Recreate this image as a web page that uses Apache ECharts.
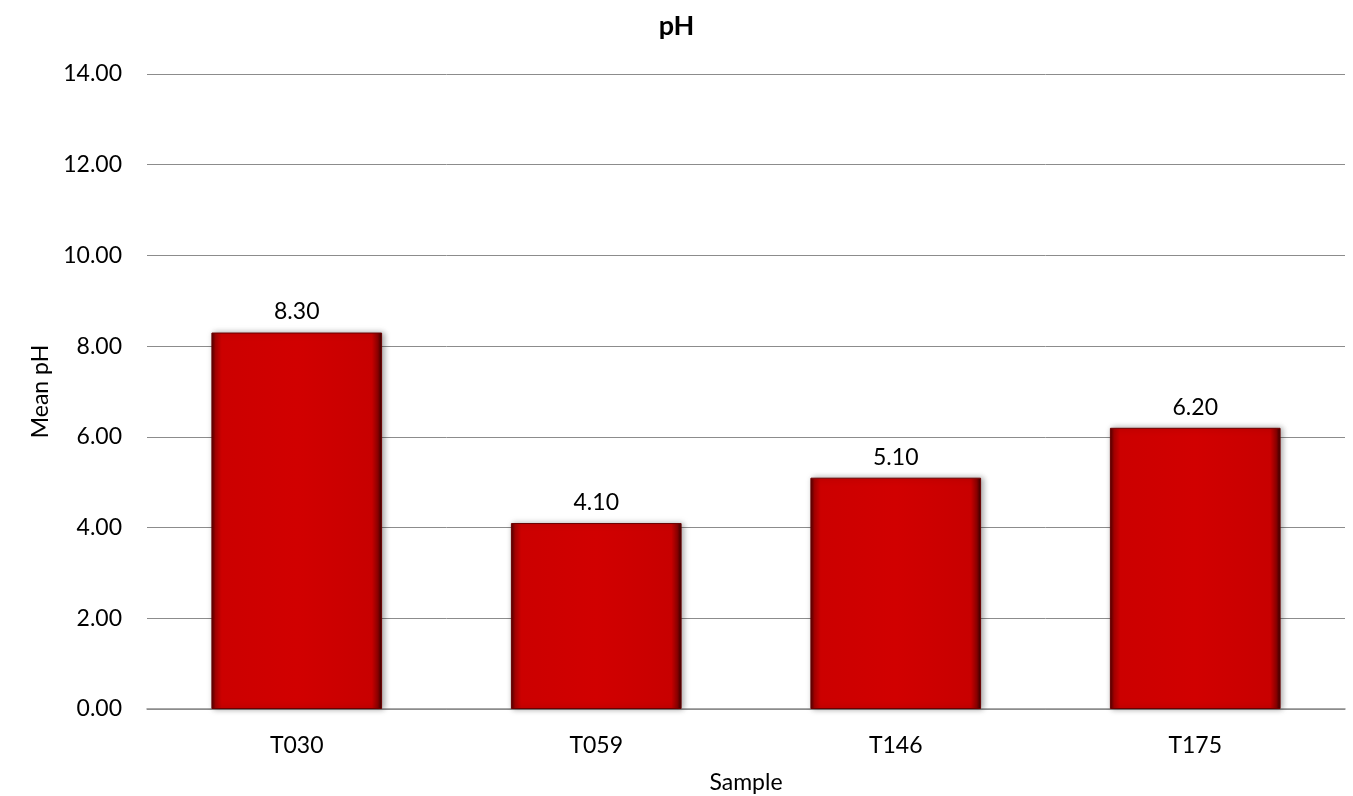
<!DOCTYPE html>
<html>
<head>
<meta charset="utf-8">
<script src="https://cdn.jsdelivr.net/npm/echarts@6/dist/echarts.min.js"></script>
<style>html,body{margin:0;padding:0;background:#fff;}#c{width:1353px;height:796px;}</style>
</head>
<body>
<div id="c"></div>
<script>
var categories = ['T030', 'T059', 'T146', 'T175'];
var meanPH = [8.30, 4.10, 5.10, 6.20];
var yTicks = { min: 0, max: 14, interval: 2 };

var font = 'Lato, "Liberation Sans", sans-serif';
var chart = echarts.init(document.getElementById('c'));
var barColor = new echarts.graphic.LinearGradient(0, 0, 1, 0, [
  { offset: 0, color: '#4a0000' },
  { offset: 0.025, color: '#a80000' },
  { offset: 0.06, color: '#cc0000' },
  { offset: 0.5, color: '#d10000' },
  { offset: 0.94, color: '#c80000' },
  { offset: 0.975, color: '#8a0000' },
  { offset: 1, color: '#300000' }
]);
chart.setOption({
  animation: false,
  title: {
    text: 'pH', left: 'center', top: 8,
    textStyle: { fontFamily: font, fontSize: 27, fontWeight: 'bold', color: '#000' }
  },
  grid: { left: 147, right: 8, top: 74, bottom: 87, containLabel: false, outerBoundsMode: 'none' },
  xAxis: {
    type: 'category', data: categories,
    name: 'Sample', nameLocation: 'middle', nameGap: 62,
    nameTextStyle: { fontFamily: font, fontSize: 23, color: '#000' },
    axisLine: { lineStyle: { color: '#8c8c8c', width: 1.5 } },
    axisTick: { show: false },
    axisLabel: { fontFamily: font, fontSize: 23, color: '#000', margin: 25 }
  },
  yAxis: {
    type: 'value', min: yTicks.min, max: yTicks.max, interval: yTicks.interval,
    name: 'Mean pH', nameLocation: 'middle', nameGap: 93, nameRotate: 90,
    nameTextStyle: { fontFamily: font, fontSize: 23, color: '#000' },
    axisLine: { show: false }, axisTick: { show: false },
    axisLabel: { fontFamily: font, fontSize: 23, color: '#000', margin: 25,
      formatter: function (v) { return v.toFixed(2); } },
    splitLine: { lineStyle: { color: '#8c8c8c', width: 1 } }
  },
  series: [{
    type: 'bar', data: meanPH, barWidth: '57%',
    itemStyle: {
      color: barColor, borderColor: '#6a0000', borderWidth: 1,
      shadowColor: 'rgba(0,0,0,0.35)', shadowBlur: 6, shadowOffsetX: 2, shadowOffsetY: 0
    },
    label: {
      show: true, position: 'top', distance: 9,
      fontFamily: font, fontSize: 23, color: '#000',
      formatter: function (p) { return p.value.toFixed(2); }
    }
  }]
});
</script>
</body>
</html>
